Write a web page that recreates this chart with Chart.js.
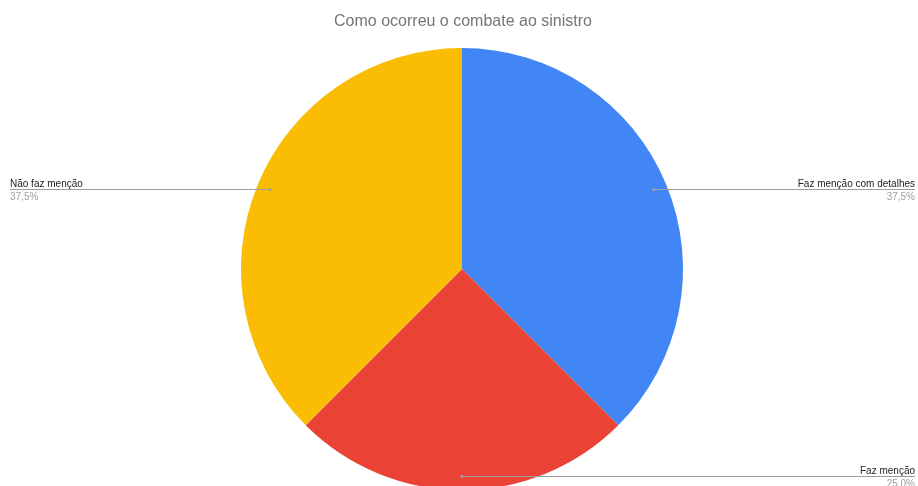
<!DOCTYPE html>
<html>
<head>
<meta charset="utf-8">
<script src="https://cdn.jsdelivr.net/npm/chart.js@4/dist/chart.umd.min.js"></script>
<style>
  html, body { margin: 0; padding: 0; background: #fff; overflow: hidden; }
  #wrap { width: 918px; height: 486px; overflow: hidden; }
</style>
</head>
<body>
<div id="wrap"><canvas id="chart" width="918" height="510"></canvas></div>
<script>
const title = 'Como ocorreu o combate ao sinistro';
const categories = ['Faz menção com detalhes', 'Faz menção', 'Não faz menção'];
const counts = [3, 2, 3];
const colors = ['#4285F4', '#EA4335', '#FBBC04'];

const total = counts.reduce((a, b) => a + b, 0);
const fmtPct = v => (v / total * 100).toFixed(1).replace('.', ',') + '%';

// titulo + linhas de chamada com rótulo e percentual
const pieLabels = {
  id: 'pieLabels',
  afterDraw(chart) {
    const ctx = chart.ctx;
    const W = chart.width;
    ctx.save();
    ctx.font = '16px "Liberation Sans", Arial, sans-serif';
    ctx.fillStyle = '#757575';
    ctx.textAlign = 'center';
    ctx.textBaseline = 'alphabetic';
    ctx.fillText(title, 463, 26);

    const meta = chart.getDatasetMeta(0);
    meta.data.forEach((arc, i) => {
      const p = arc.getProps(['x', 'y', 'startAngle', 'endAngle', 'outerRadius'], true);
      const mid = (p.startAngle + p.endAngle) / 2;
      const r = p.outerRadius * 0.94;
      const ax = p.x + Math.cos(mid) * r;
      const ay = Math.floor(p.y + Math.sin(mid) * r) + 0.5;
      const left = ax < p.x - 1;
      const endX = left ? 10 : W - 3;

      ctx.strokeStyle = '#9e9e9e';
      ctx.lineWidth = 1;
      ctx.beginPath();
      ctx.moveTo(ax, ay);
      ctx.lineTo(endX, ay);
      ctx.stroke();
      ctx.fillStyle = '#9e9e9e';
      ctx.beginPath();
      ctx.arc(ax, ay, 1.5, 0, Math.PI * 2);
      ctx.fill();

      ctx.textAlign = left ? 'left' : 'right';
      ctx.font = '10px "Liberation Sans", Arial, sans-serif';
      ctx.fillStyle = '#222222';
      ctx.fillText(categories[i], endX, ay - 3);
      ctx.fillStyle = '#a0a0a0';
      ctx.fillText(fmtPct(counts[i]), endX, ay + 10);
    });
    ctx.restore();
  }
};

new Chart(document.getElementById('chart'), {
  type: 'pie',
  data: {
    labels: categories,
    datasets: [{
      data: counts,
      backgroundColor: colors,
      borderWidth: 0
    }]
  },
  options: {
    responsive: false,
    animation: false,
    layout: { padding: { top: 48, bottom: 20, left: 241, right: 235 } },
    plugins: {
      legend: { display: false },
      tooltip: { enabled: false }
    }
  },
  plugins: [pieLabels]
});
</script>
</body>
</html>
